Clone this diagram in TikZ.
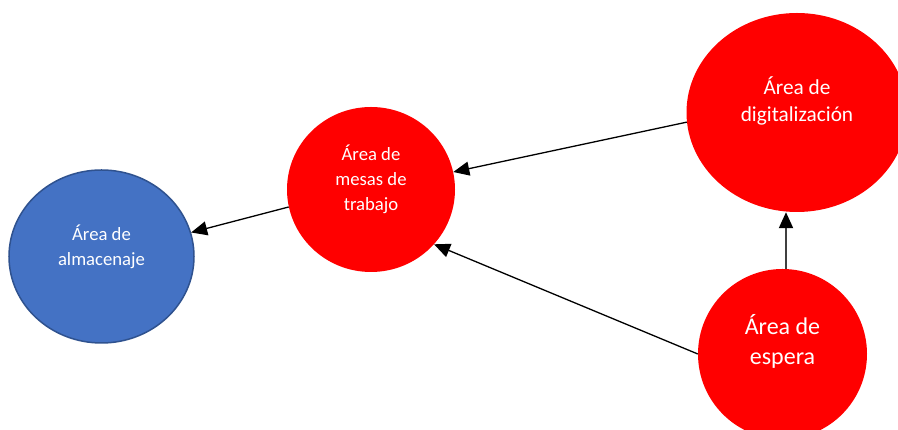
\documentclass[tikz,border=0pt]{standalone}
\usepackage{fontspec}
\setmainfont{Carlito}
\usetikzlibrary{shapes.geometric,arrows.meta}
\definecolor{areared}{HTML}{FF0000}
\definecolor{areablue}{HTML}{4472C4}
\definecolor{areablueborder}{HTML}{2F528F}
\definecolor{vgray}{HTML}{404040}
\begin{document}
\begin{tikzpicture}[x=1pt,y=1pt,
  redarea/.style={ellipse,fill=areared,draw=none,inner sep=0pt},
  bluearea/.style={ellipse,fill=areablue,draw=areablueborder,line width=1.5pt,inner sep=0pt},
  lbl/.style={text=white,align=center,inner sep=0pt},
  arr/.style={line width=1.3pt,-{Triangle[length=16pt,width=14pt]}},
  varr/.style={line width=2pt,draw=vgray,-{Triangle[length=16pt,width=14pt,color=black,fill=black]}}]
\useasboundingbox (0,0) rectangle (898,430);
\clip (0,0) rectangle (898,430);
\fill[white] (0,0) rectangle (898,430);
\node[bluearea,minimum width=185pt,minimum height=173pt] (blue) at (101.5,173.5) {};
\node[redarea,minimum width=168pt,minimum height=165pt] (mesas) at (371,240.5) {};
\node[redarea,minimum width=221pt,minimum height=199pt] (dig) at (797,317.5) {};
\node[redarea,minimum width=169pt,minimum height=170pt] (espera) at (782.5,76) {};
\node[lbl,font=\fontsize{18.7}{25}\selectfont] (bluet) at ([yshift=10pt]blue.center) {Área de\\almacenaje};
\node[lbl,font=\fontsize{18.7}{25}\selectfont] (mesast) at ([yshift=10.5pt]mesas.center) {Área de\\mesas de\\trabajo};
\node[lbl,font=\fontsize{21.3}{27}\selectfont] (digt) at ([yshift=11.5pt]dig.center) {Área de\\digitalización};
\node[lbl,font=\fontsize{24}{30}\selectfont] (esperat) at ([yshift=13pt]espera.center) {Área de\\espera};
\draw[arr] (mesas.192.2) -- (blue.15.6);
\draw[arr] (dig.185) -- (mesas.12.4);
\draw[arr] (espera.180) -- (mesas.-41.8);
\coordinate (vx) at (786,0);
\draw[varr] (espera.north -| vx) -- (dig.south -| vx);
\end{tikzpicture}
\end{document}
